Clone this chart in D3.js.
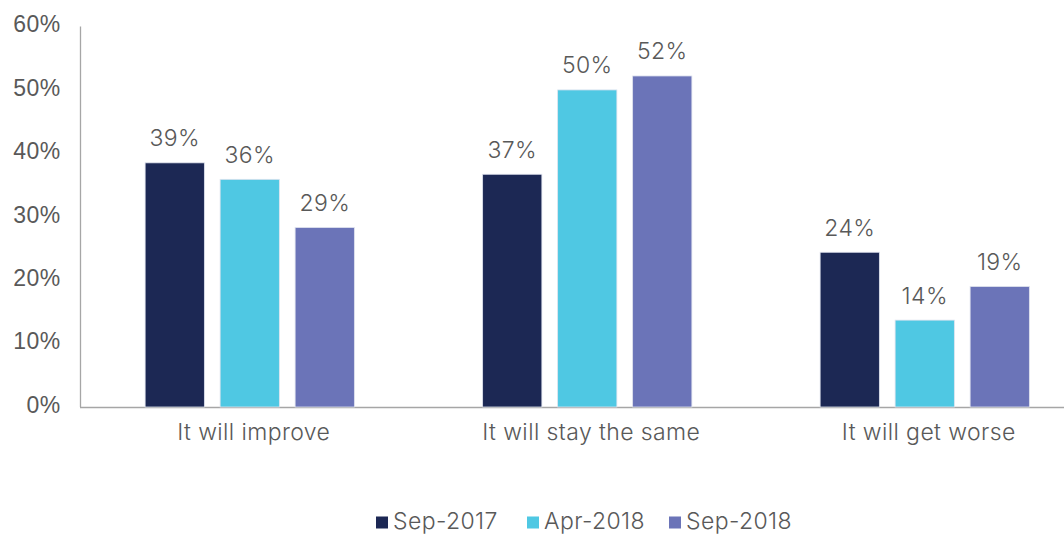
<!DOCTYPE html>
<html><head><meta charset="utf-8">
<script src="https://cdn.jsdelivr.net/npm/d3@7"></script>
<style>body{margin:0;background:#fff}svg{display:block;font-family:Inter,"Open Sans",sans-serif;font-weight:300;letter-spacing:0.4px}</style>
</head><body>
<svg id="c" width="1064" height="535"></svg>
<script>
const categories = ["It will improve", "It will stay the same", "It will get worse"];
const series = ["Sep-2017", "Apr-2018", "Sep-2018"];
const sep2017 = [38.5, 36.7, 24.4];
const apr2018 = [35.9, 50.0, 13.7];
const sep2018 = [28.3, 52.2, 19.0];
const labelsSep2017 = ["39%", "37%", "24%"];
const labelsApr2018 = ["36%", "50%", "14%"];
const labelsSep2018 = ["29%", "52%", "19%"];
const yTicks = [0, 10, 20, 30, 40, 50, 60];
const colors = ["#1c2854", "#4fc8e3", "#6b74b8"];

const values = [sep2017, apr2018, sep2018];
const labels = [labelsSep2017, labelsApr2018, labelsSep2018];
const svg = d3.select("#c");
const textColor = "#595959";
const fs = 23;
const y = d3.scaleLinear().domain([0, 60]).range([407, 26.5]);
const x0 = d3.scaleBand().domain(categories).range([81, 1093.5]);
const x1 = d3.scaleBand().domain(series).range([-112.5, 112.5]).paddingInner(0.21).paddingOuter(0.105);

// axes
const yAxis = svg.append("g").attr("transform", "translate(80.5,0)")
  .call(d3.axisLeft(y).tickValues(yTicks).tickSize(0).tickPadding(20).tickFormat(d => d + "%"));
yAxis.select(".domain").attr("stroke", "#a6a6a6").attr("stroke-width", 1.3).attr("d", `M0,${y(0)}V${y(60)}`);
yAxis.selectAll("text").attr("fill", textColor).attr("font-size", fs).attr("font-family", null).attr("dy", "0.32em").attr("y", -2).attr("x", -20);

svg.append("line").attr("x1", 80).attr("x2", 1064).attr("y1", y(0) + 0.5).attr("y2", y(0) + 0.5)
  .attr("stroke", "#a6a6a6").attr("stroke-width", 1.3);

const groups = svg.selectAll("g.grp").data(categories).join("g").attr("class", "grp")
  .attr("transform", c => `translate(${x0(c) + x0.bandwidth() / 2},0)`);

series.forEach((s, si) => {
  groups.append("rect")
    .attr("x", x1(s))
    .attr("width", x1.bandwidth())
    .attr("y", (c, ci) => y(values[si][ci]))
    .attr("height", (c, ci) => y(0) - y(values[si][ci]))
    .attr("fill", colors[si])
    .attr("stroke", "#dfe3ee").attr("stroke-width", 0.8);
  groups.append("text")
    .attr("x", x1(s) + x1.bandwidth() / 2)
    .attr("y", (c, ci) => y(values[si][ci]) - 16.5)
    .attr("text-anchor", "middle").attr("fill", textColor).attr("font-size", fs)
    .text((c, ci) => labels[si][ci]);
});

// category labels
groups.append("text").attr("x", 4).attr("y", 440).attr("text-anchor", "middle")
  .attr("fill", textColor).attr("font-size", fs).text(c => c);

// legend
const legendX = [376, 527, 669];
const leg = svg.selectAll("g.leg").data(series).join("g").attr("class", "leg")
  .attr("transform", (s, i) => `translate(${legendX[i]},0)`);
leg.append("rect").attr("x", 0).attr("y", 516.5).attr("width", 12).attr("height", 12)
  .attr("fill", (s, i) => colors[i]);
leg.append("text").attr("x", 17).attr("y", 529).attr("fill", textColor).attr("font-size", fs).text(s => s);
</script>
</body></html>
